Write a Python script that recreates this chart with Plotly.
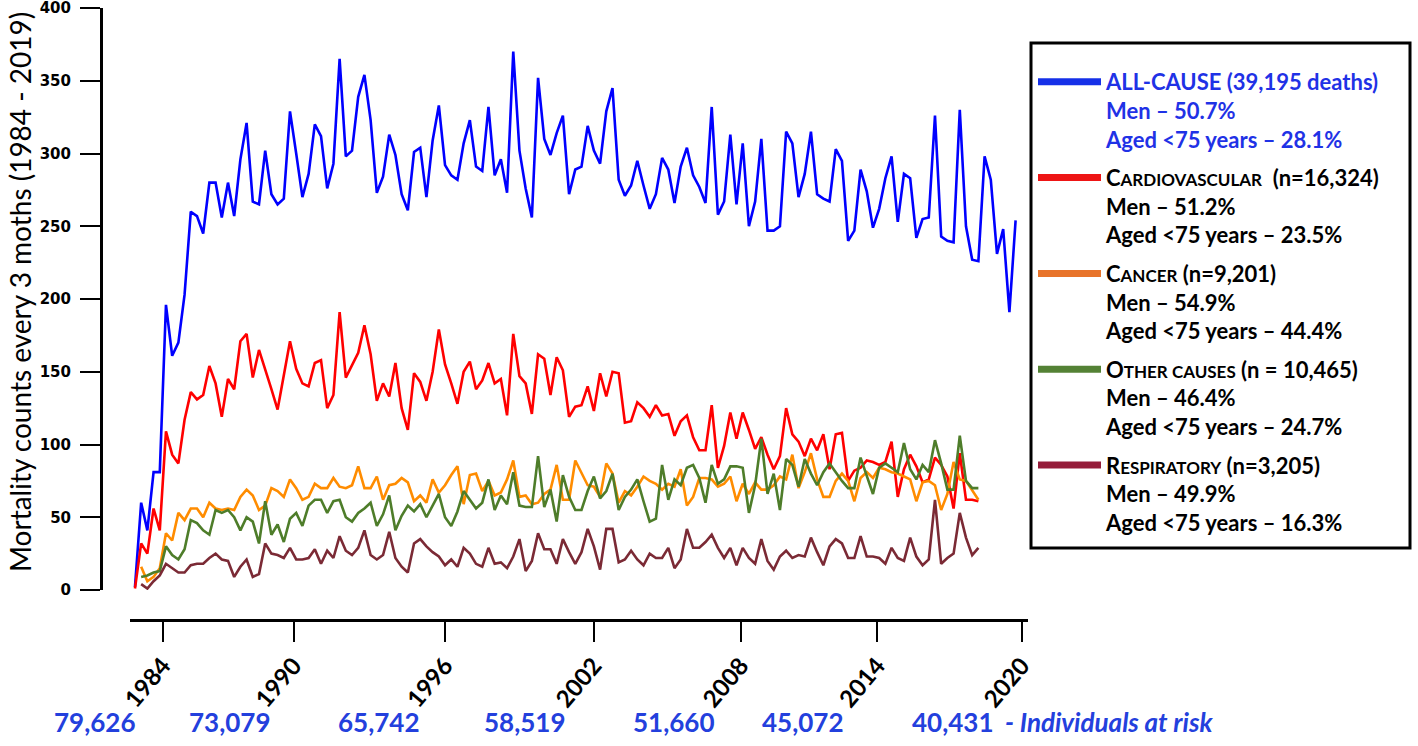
import plotly.graph_objects as go

# ---------------- data (quarterly mortality counts) ----------------
all_cause = [2, 60, 41, 81, 81, 196, 161, 170, 203, 260, 257, 245, 280, 280, 256, 280, 257, 296, 321, 267,
             265, 302, 272, 265, 269, 329, 300, 270, 286, 320, 312, 276, 293, 365, 298, 302, 339, 354, 323, 273,
             284, 313, 299, 272, 261, 301, 304, 270, 309, 333, 292, 285, 282, 307, 323, 291, 288, 332, 285, 296,
             273, 370, 302, 276, 256, 352, 310, 299, 314, 326, 272, 289, 291, 319, 302, 293, 329, 345, 282, 271,
             278, 295, 278, 262, 272, 297, 289, 266, 291, 304, 285, 277, 266, 332, 258, 267, 313, 265, 307, 250,
             267, 310, 247, 247, 250, 315, 307, 270, 286, 315, 272, 269, 267, 303, 295, 240, 247, 289, 274, 249,
             262, 283, 298, 253, 286, 283, 242, 255, 256, 326, 243, 240, 239, 330, 250, 227, 226, 298, 282, 231,
             248, 191, 254]

cardiovascular = [1, 32, 25, 56, 41, 109, 93, 87, 117, 136, 131, 134, 154, 142, 119, 145, 138, 171, 176, 146,
                  165, 152, 138, 124, 148, 171, 152, 142, 140, 156, 158, 125, 134, 191, 146, 154, 163, 182, 162, 130,
                  142, 133, 156, 125, 110, 149, 143, 130, 150, 179, 155, 142, 128, 150, 157, 138, 144, 156, 142, 145,
                  120, 176, 147, 142, 121, 162, 159, 134, 160, 151, 119, 126, 127, 140, 123, 149, 133, 150, 149, 115,
                  116, 129, 125, 119, 127, 120, 121, 106, 116, 120, 105, 96, 96, 127, 84, 99, 122, 104, 122, 110,
                  97, 105, 93, 83, 92, 125, 107, 102, 92, 104, 96, 107, 83, 107, 108, 75, 82, 84, 89, 88,
                  86, 88, 102, 64, 83, 93, 85, 74, 76, 91, 86, 78, 56, 94, 62, 62, 61]

cancer = [None, 16, 6, 9, 15, 39, 34, 53, 48, 56, 56, 50, 60, 56, 55, 56, 55, 64, 69, 65,
          55, 58, 70, 68, 64, 76, 70, 62, 64, 73, 70, 70, 77, 71, 70, 72, 85, 70, 70, 78,
          62, 72, 73, 77, 74, 61, 65, 60, 76, 67, 72, 79, 85, 59, 79, 80, 68, 75, 65, 67,
          76, 89, 64, 65, 59, 60, 66, 69, 86, 62, 62, 89, 80, 72, 71, 64, 87, 80, 60, 68,
          65, 71, 78, 75, 73, 69, 73, 71, 83, 58, 64, 77, 77, 76, 71, 73, 78, 61, 73, 66,
          74, 69, 69, 72, 78, 76, 93, 70, 81, 94, 76, 64, 64, 75, 80, 75, 61, 77, 81, 77,
          84, 83, 81, 80, 78, 76, 61, 74, 75, 72, 55, 66, 88, 76, 75, 68, 62]

other_causes = [None, 9, 10, 12, 13, 30, 24, 21, 28, 48, 46, 41, 38, 55, 53, 55, 50, 41, 50, 47,
                32, 61, 38, 45, 33, 49, 53, 44, 58, 62, 62, 53, 61, 62, 50, 47, 53, 56, 60, 44,
                52, 65, 41, 51, 58, 54, 59, 50, 58, 66, 50, 44, 54, 68, 62, 56, 60, 76, 55, 65,
                59, 81, 58, 57, 57, 92, 57, 69, 47, 79, 64, 55, 55, 68, 78, 63, 68, 80, 55, 64,
                69, 76, 61, 47, 49, 86, 62, 76, 72, 84, 86, 77, 60, 86, 73, 76, 85, 85, 84, 53,
                72, 104, 66, 80, 55, 90, 86, 71, 90, 80, 72, 81, 87, 81, 75, 70, 70, 91, 78, 66,
                84, 87, 84, 81, 101, 83, 76, 86, 81, 103, 87, 69, 69, 106, 75, 70, 70]

respiratory = [None, 4, 1, 6, 10, 18, 15, 12, 12, 17, 18, 18, 22, 25, 21, 20, 9, 16, 21, 9,
               11, 32, 25, 24, 22, 29, 21, 21, 22, 28, 18, 27, 22, 37, 27, 24, 29, 41, 24, 21,
               24, 40, 22, 16, 12, 32, 35, 30, 26, 23, 17, 21, 16, 29, 25, 18, 16, 29, 18, 19,
               15, 23, 35, 13, 20, 39, 28, 28, 18, 35, 26, 18, 26, 42, 30, 14, 42, 42, 19, 21,
               27, 21, 17, 25, 22, 22, 29, 15, 21, 42, 29, 29, 33, 38, 29, 22, 29, 17, 29, 22,
               18, 35, 20, 14, 23, 27, 22, 24, 23, 36, 26, 17, 30, 35, 32, 22, 22, 37, 23, 23,
               22, 18, 29, 22, 20, 36, 23, 17, 21, 62, 18, 22, 25, 53, 36, 24, 29]

year_ticks = ["1984", "1990", "1996", "2002", "2008", "2014", "2020"]
# tick positions, in quarter-index units, as they sit in the original figure
year_tick_pos = [4.5, 25.6, 50.0, 74.0, 97.7, 119.7, 143.0]

y_ticks = [0, 50, 100, 150, 200, 250, 300, 350, 400]

at_risk = ["79,626", "73,079", "65,742", "58,519", "51,660", "45,072", "40,431"]
at_risk_right_px = [137, 272, 421, 567, 716, 845, 995]

y_title = "Mortality counts every 3 moths (1984 - 2019)"

legend_names = [
    "<span style='color:#1f32e6'>ALL-CAUSE (39,195 deaths)</span><br>"
    "<span style='color:#1f32e6'>Men – 50.7%</span><br>"
    "<span style='color:#1f32e6'>Aged &lt;75 years – 28.1%</span>",
    "C<span style='font-size:17px'>ARDIOVASCULAR</span>  (n=16,324)<br>Men – 51.2%<br>Aged &lt;75 years – 23.5%",
    "C<span style='font-size:17px'>ANCER</span> (n=9,201)<br>Men – 54.9%<br>Aged &lt;75 years – 44.4%",
    "O<span style='font-size:17px'>THER CAUSES</span> (n = 10,465)<br>Men – 46.4%<br>Aged &lt;75 years – 24.7%",
    "R<span style='font-size:17px'>ESPIRATORY</span> (n=3,205)<br>Men – 49.9%<br>Aged &lt;75 years – 16.3%",
]

series = [all_cause, cardiovascular, cancer, other_causes, respiratory]
line_colors = ["#0000ff", "#ff0000", "#ff8c00", "#4e7d2a", "#7b2a35"]
legend_colors = ["#1530e8", "#ee1515", "#e8742a", "#548235", "#951c3a"]

# ---------------- geometry of the page (window pixels) ----------------
W, H = 1418, 746
AX_Y_PX = 101          # y-axis line
PLOT_RIGHT, X_AXIS_PX, TOP_PX = 1028, 620, 8
ML, MT = AX_Y_PX, TOP_PX
MR = W - PLOT_RIGHT
MB = H - X_AXIS_PX
PW, PH = W - ML - MR, H - MT - MB


def px_x(p):
    return (p - ML) / PW


def px_y(p):
    return (X_AXIS_PX - p) / PH


fig = go.Figure()

for vals, col in zip(series, line_colors):
    fig.add_trace(go.Scatter(
        x=list(range(len(vals))), y=vals, mode="lines",
        line=dict(color=col, width=2.6), showlegend=False, hoverinfo="skip",
        connectgaps=False,
    ))

# legend entries (thick swatches, like the original)
for k, (nm, col) in enumerate(zip(legend_names, legend_colors)):
    fig.add_trace(go.Scatter(
        x=[None], y=[None], mode="lines", line=dict(color=col, width=7),
        name=nm, legendgroup=f"g{k}", showlegend=True,
    ))

fig.update_layout(
    width=W, height=H,
    margin=dict(l=ML, r=MR, t=MT, b=MB, autoexpand=False),
    paper_bgcolor="white", plot_bgcolor="white",
    font=dict(family="Lato, 'Open Sans', sans-serif", color="black"),
    xaxis=dict(
        domain=[px_x(130), 1], anchor="free", position=0,
        range=[-0.8, 144.0], showgrid=False, zeroline=False,
        showline=True, linecolor="black", linewidth=3,
        tickmode="array", tickvals=year_tick_pos, ticktext=year_ticks,
        ticks="outside", ticklen=20, tickwidth=2, tickcolor="black",
        tickangle=-50, tickfont=dict(family="Lato", size=24, color="black", weight="bold"),
    ),
    yaxis=dict(
        domain=[px_y(590), 1], anchor="free", position=0,
        range=[0, 400.01], showgrid=False, zeroline=False,
        showline=True, linecolor="black", linewidth=3,
        tickmode="array", tickvals=y_ticks,
        ticks="outside", ticklen=20, tickwidth=2, tickcolor="black",
        ticklabeloverflow="allow", ticklabelstandoff=6,
        tickfont=dict(family="DejaVu Sans", size=15, color="black", weight="bold"),
    ),
    legend=dict(
        x=px_x(1033), y=px_y(61), xanchor="left", yanchor="top",
        bgcolor="rgba(0,0,0,0)", borderwidth=0,
        font=dict(family="Lato", size=22, color="black", weight="bold"),
        traceorder="grouped", tracegroupgap=7, valign="top", itemwidth=63,
    ),
    showlegend=True,
)

# y-axis title
fig.add_annotation(text=y_title, xref="paper", yref="paper", textangle=-90,
                   x=px_x(20), y=px_y(292), xanchor="center", yanchor="middle",
                   showarrow=False, font=dict(family="Lato", size=28, color="black"))

# legend frame
fig.add_shape(type="rect", xref="paper", yref="paper",
              x0=px_x(1031), x1=px_x(1410), y0=px_y(548), y1=px_y(43),
              line=dict(color="black", width=3), fillcolor="rgba(0,0,0,0)", layer="above")

# individuals at risk row
for txt, p in zip(at_risk, at_risk_right_px):
    fig.add_annotation(text=f"<b>{txt}</b>", xref="paper", yref="paper",
                       x=px_x(p), y=px_y(722), xanchor="right", yanchor="middle",
                       showarrow=False, font=dict(family="Lato", size=26, color="#2340dd"))
fig.add_annotation(text="<b><i>- Individuals at risk</i></b>", xref="paper", yref="paper",
                   x=px_x(1003), y=px_y(722), xanchor="left", yanchor="middle",
                   showarrow=False, font=dict(family="Lato", size=26, color="#2340dd"))

# the page's default 8px body margin would push the figure off its 1418x746 frame
fig.write_html("out.html", config={"displayModeBar": False},
               post_script="document.body.style.margin='0px';")
